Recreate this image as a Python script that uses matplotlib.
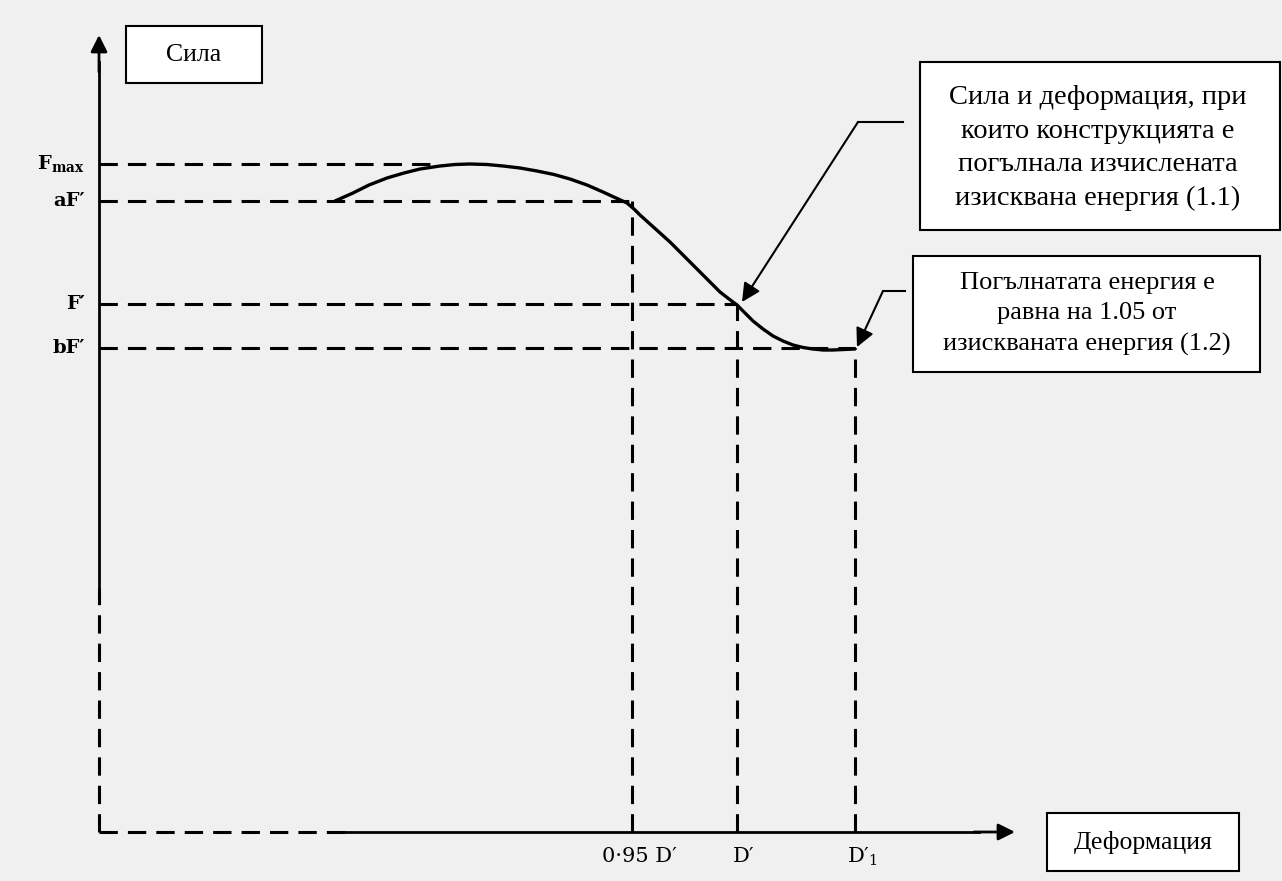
import matplotlib.pyplot as plt
from matplotlib.patches import Rectangle

plt.rcParams['mathtext.fontset'] = 'dejavuserif'

# schematic units: origin at the axes corner, 1 unit = 100 px
force_names = ['F$_{\\mathbf{max}}$', 'aF′', 'F′', 'bF′']
force_levels = [6.68, 6.31, 5.28, 4.84]
force_ends = [3.41, 5.33, 6.38, 7.56]     # where each dashed level meets the curve

defo_names = ['0·95 D′', 'D′', 'D′$_1$']
defo_values = [5.33, 6.38, 7.56]
defo_tops = [6.31, 5.28, 4.84]

curve_x = [2.36, 2.45, 2.54, 2.70, 2.88, 3.05, 3.21, 3.41, 3.56, 3.71, 3.88, 4.04,
           4.21, 4.38, 4.55, 4.71, 4.88, 5.04, 5.17, 5.28, 5.35, 5.41, 5.51, 5.61,
           5.71, 5.81, 5.91, 6.01, 6.11, 6.21, 6.30, 6.38, 6.46, 6.54, 6.64, 6.74,
           6.84, 6.94, 7.04, 7.14, 7.24, 7.34, 7.45, 7.56]
curve_y = [6.31, 6.35, 6.39, 6.47, 6.54, 6.59, 6.63, 6.66, 6.675, 6.68, 6.675, 6.66,
           6.64, 6.61, 6.575, 6.53, 6.47, 6.40, 6.34, 6.29, 6.23, 6.17, 6.08, 5.99,
           5.90, 5.80, 5.70, 5.60, 5.50, 5.40, 5.33, 5.27, 5.19, 5.11, 5.03, 4.96,
           4.91, 4.87, 4.845, 4.83, 4.82, 4.82, 4.825, 4.83]

bg = '#f0f0f0'
fig = plt.figure(figsize=(12.82, 8.81), dpi=100, facecolor=bg)
ax = fig.add_axes([0, 0, 1, 1])
ax.set_facecolor(bg)
ax.set_xlim(-0.99, 11.83)
ax.set_ylim(-0.49, 8.32)
ax.axis('off')

dash = dict(color='black', lw=2.2, dashes=(6, 3.3))

# axes: dashed near the origin, solid further out
ax.plot([0, 0], [0, 2.44], **dash)
ax.plot([0, 0], [2.44, 7.7], color='black', lw=2)
ax.annotate('', xy=(0, 7.97), xytext=(0, 7.6),
            arrowprops=dict(arrowstyle='-|>', color='black', lw=2, mutation_scale=25,
                            shrinkA=0, shrinkB=0))
ax.plot([0, 2.46], [0, 0], **dash)
ax.plot([2.46, 8.8], [0, 0], color='black', lw=2)
ax.annotate('', xy=(9.16, 0), xytext=(8.75, 0),
            arrowprops=dict(arrowstyle='-|>', color='black', lw=2, mutation_scale=25,
                            shrinkA=0, shrinkB=0))

for name, lvl, end in zip(force_names, force_levels, force_ends):
    ax.plot([0, end], [lvl, lvl], **dash)
    ax.text(-0.14, lvl, name, ha='right', va='center', fontsize=14,
            family='DejaVu Serif', fontweight='bold')

for name, xv, top in zip(defo_names, defo_values, defo_tops):
    ax.plot([xv, xv], [0, top], **dash)
    ax.text(xv + 0.07, -0.25, name, ha='center', va='center', fontsize=15,
            family='DejaVu Serif')

ax.plot(curve_x, curve_y, color='black', lw=2.4, solid_capstyle='round',
        solid_joinstyle='round')

# label boxes
def box(x0, y0, x1, y1, text, cx, cy, size=18.5, spacing=1.28):
    ax.add_patch(Rectangle((x0, y0), x1 - x0, y1 - y0, facecolor='white',
                           edgecolor='black', lw=1.5, zorder=3))
    ax.text(cx, cy, text, ha='center', va='center', fontsize=size,
            family='Liberation Serif', linespacing=spacing, zorder=4)

box(0.27, 7.49, 1.63, 8.06, 'Сила', 0.95, 7.77)
box(9.48, -0.39, 11.40, 0.19, 'Деформация', 10.44, -0.10)
box(8.21, 6.02, 11.81, 7.70,
    'Сила и деформация, при\nкоито конструкцията е\nпогълнала изчислената\nизисквана енергия (1.1)',
    9.99, 6.84, size=20.5, spacing=1.45)
box(8.14, 4.60, 11.61, 5.76,
    'Погълнатата енергия е\nравна на 1.05 от\nизискваната енергия (1.2)',
    9.88, 5.18, size=19, spacing=1.48)

# leader arrows
ax.plot([8.04, 7.59], [7.10, 7.10], color='black', lw=1.5)
ax.annotate('', xy=(6.43, 5.30), xytext=(7.59, 7.10),
            arrowprops=dict(arrowstyle='-|>', color='black', lw=1.5, mutation_scale=28,
                            shrinkA=0, shrinkB=0))
ax.plot([8.06, 7.84], [5.41, 5.41], color='black', lw=1.5)
ax.annotate('', xy=(7.58, 4.85), xytext=(7.84, 5.41),
            arrowprops=dict(arrowstyle='-|>', color='black', lw=1.5, mutation_scale=28,
                            shrinkA=0, shrinkB=0))

fig.savefig('out.png', dpi=100, facecolor=bg)
